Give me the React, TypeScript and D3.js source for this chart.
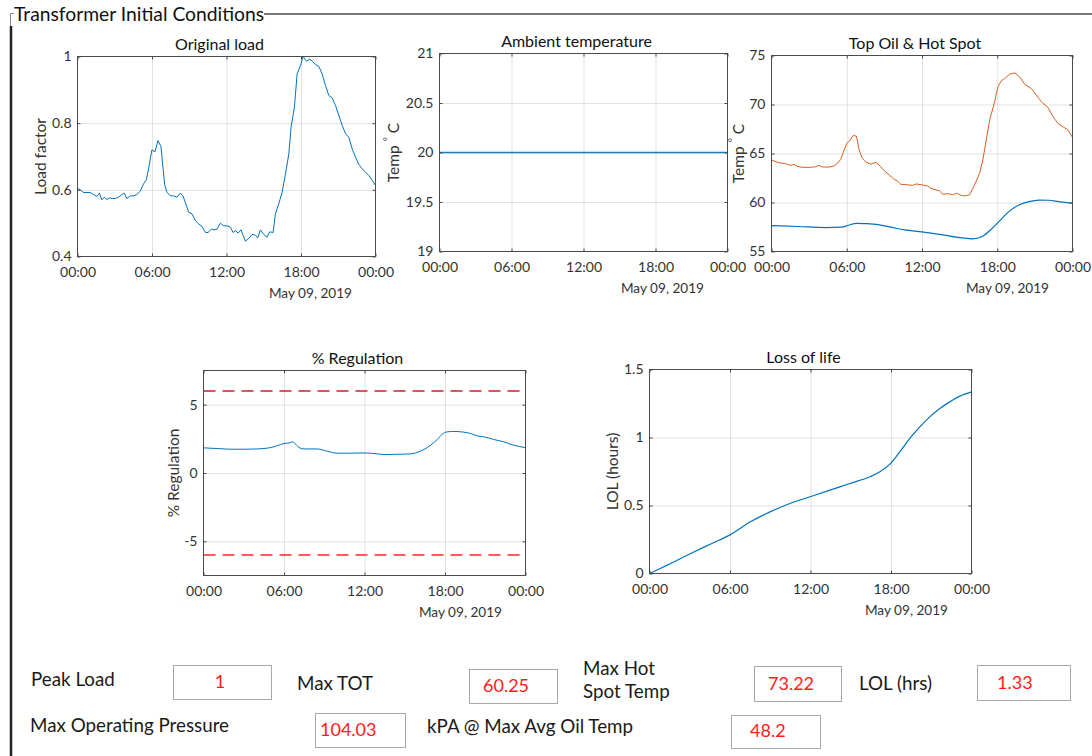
import React, { useEffect, useRef } from 'react';
import * as d3 from 'd3';

// ---------- data ----------
const X_TICKS = [0, 6, 12, 18, 24];
const X_TICK_LABELS = ['00:00', '06:00', '12:00', '18:00', '00:00'];
const DATE_LABEL = 'May 09, 2019';
const PANEL_TITLE = 'Transformer Initial Conditions';

const LOAD_HOURS = [0, 0.22, 0.48, 0.75, 1.02, 1.29, 1.56, 1.77, 1.96, 2.15, 2.37, 2.58, 2.8, 3.06, 3.31, 3.58, 3.76, 3.98, 4.25, 4.52, 4.78, 5.05, 5.32, 5.54, 5.75, 5.99, 6.24, 6.48, 6.72, 6.88, 7.02, 7.2, 7.47, 7.74, 8.01, 8.28, 8.49, 8.68, 8.95, 9.22, 9.49, 9.76, 10.03, 10.3, 10.51, 10.78, 11.05, 11.24, 11.51, 11.77, 12.04, 12.31, 12.53, 12.74, 12.93, 13.17, 13.52, 13.79, 14.06, 14.33, 14.52, 14.73, 15.0, 15.27, 15.48, 15.75, 15.94, 16.21, 16.48, 16.75, 17.02, 17.2, 17.47, 17.69, 17.96, 18.17, 18.44, 18.71, 18.9, 19.17, 19.44, 19.7, 19.97, 20.24, 20.51, 20.78, 21.05, 21.32, 21.59, 21.85, 22.12, 22.39, 22.66, 22.93, 23.2, 23.47, 23.74, 24.0];
const LOAD_FACTOR = [0.605, 0.6, 0.592, 0.592, 0.592, 0.586, 0.58, 0.59, 0.57, 0.578, 0.571, 0.576, 0.574, 0.574, 0.578, 0.586, 0.59, 0.574, 0.582, 0.582, 0.586, 0.596, 0.618, 0.63, 0.668, 0.72, 0.714, 0.748, 0.73, 0.668, 0.616, 0.593, 0.582, 0.582, 0.578, 0.59, 0.582, 0.563, 0.533, 0.528, 0.508, 0.498, 0.49, 0.472, 0.472, 0.482, 0.48, 0.482, 0.5, 0.492, 0.492, 0.488, 0.472, 0.478, 0.47, 0.48, 0.446, 0.454, 0.466, 0.464, 0.456, 0.48, 0.466, 0.458, 0.474, 0.472, 0.528, 0.558, 0.593, 0.648, 0.708, 0.788, 0.848, 0.948, 0.973, 1.0, 0.986, 0.992, 0.986, 0.976, 0.97, 0.948, 0.913, 0.883, 0.876, 0.853, 0.823, 0.793, 0.768, 0.758, 0.723, 0.698, 0.676, 0.663, 0.653, 0.643, 0.628, 0.613];

const AMBIENT_HOURS = [0, 24];
const AMBIENT_TEMP = [20, 20];

const HOTSPOT_HOURS = [0, 0.59, 1.12, 1.52, 1.79, 2.05, 2.45, 3.12, 3.52, 3.79, 4.05, 4.59, 4.99, 5.25, 5.52, 5.79, 6.0, 6.24, 6.51, 6.77, 6.99, 7.25, 7.52, 7.92, 8.32, 8.59, 8.99, 9.39, 9.79, 10.05, 10.32, 10.72, 11.25, 11.52, 12.0, 12.45, 12.72, 13.12, 13.39, 13.65, 14.05, 14.45, 14.77, 15.12, 15.39, 15.79, 16.19, 16.59, 16.85, 17.12, 17.39, 17.79, 18.05, 18.32, 18.59, 18.99, 19.4, 19.79, 20.19, 20.72, 21.12, 21.52, 22.05, 22.45, 22.85, 23.25, 23.65, 24];
const HOTSPOT_TEMP = [64.33, 64.06, 63.96, 63.79, 63.89, 63.69, 63.59, 63.59, 63.65, 63.79, 63.62, 63.62, 63.72, 63.99, 64.4, 65.35, 66.03, 66.3, 66.84, 66.77, 65.35, 64.5, 64.13, 63.92, 64.09, 63.82, 63.25, 62.8, 62.36, 62.19, 61.85, 61.82, 61.75, 61.89, 61.8, 61.68, 61.45, 61.28, 61.21, 60.84, 60.9, 60.8, 60.94, 60.73, 60.67, 60.77, 61.79, 62.97, 64.33, 66.37, 68.4, 70.27, 71.8, 72.41, 72.65, 73.09, 73.22, 72.81, 72.07, 71.63, 70.95, 70.27, 69.69, 68.74, 68.06, 67.72, 67.39, 66.64];

const TOPOIL_HOURS = [0, 2.17, 4.3, 5.6, 6.13, 6.8, 7.45, 8.5, 9.55, 10.6, 12, 13.65, 15.23, 16.02, 16.8, 17.46, 18.13, 18.93, 19.72, 20.52, 21.31, 22.1, 22.9, 24];
const TOPOIL_TEMP = [57.65, 57.55, 57.44, 57.48, 57.68, 57.88, 57.85, 57.75, 57.48, 57.2, 57.0, 56.7, 56.39, 56.29, 56.53, 57.2, 58.05, 59.07, 59.75, 60.09, 60.25, 60.23, 60.09, 59.92];

const REG_HOURS = [0, 1.04, 2.03, 3.03, 4.02, 5.01, 5.51, 6.0, 6.38, 6.63, 6.82, 7.12, 7.49, 8.49, 9.23, 9.98, 10.97, 11.96, 12.95, 13.45, 14.44, 15.43, 15.81, 16.43, 16.92, 17.42, 17.79, 18.16, 18.66, 19.4, 19.9, 20.4, 20.89, 21.64, 22.38, 23.13, 24];
const REG_PERCENT = [1.84, 1.79, 1.74, 1.74, 1.76, 1.86, 2.0, 2.16, 2.2, 2.28, 2.16, 1.86, 1.76, 1.76, 1.59, 1.45, 1.45, 1.47, 1.4, 1.35, 1.37, 1.4, 1.47, 1.72, 2.03, 2.45, 2.84, 3.01, 3.04, 2.99, 2.89, 2.72, 2.65, 2.45, 2.28, 2.03, 1.86];
const REG_LIMITS = [6, -6];

const LOL_HOURS = [0, 1.54, 3.03, 4.52, 6.0, 7.49, 8.98, 10.47, 11.96, 13.45, 14.94, 16.43, 17.17, 17.92, 18.66, 19.4, 20.15, 20.89, 21.64, 22.38, 23.13, 24];
const LOL_VALUES = [0, 0.072, 0.145, 0.215, 0.284, 0.378, 0.453, 0.515, 0.564, 0.613, 0.662, 0.711, 0.748, 0.804, 0.895, 0.993, 1.078, 1.152, 1.213, 1.262, 1.304, 1.336];

const LOAD_Y_TICKS = [0.4, 0.6, 0.8, 1];
const AMB_Y_TICKS = [19, 19.5, 20, 20.5, 21];
const TEMP_Y_TICKS = [55, 60, 65, 70, 75];
const REG_Y_TICKS = [-5, 0, 5];
const LOL_Y_TICKS = [0, 0.5, 1, 1.5];

const SUMMARY_LABELS = ['Peak Load', 'Max TOT', 'Max Hot\nSpot Temp', 'LOL (hrs)', 'Max Operating Pressure', 'kPA @ Max Avg Oil Temp'];
const SUMMARY_VALUES = ['1', '60.25', '73.22', '1.33', '104.03', '48.2'];

// ---------- styles ----------
const FONT = 'Lato, "Open Sans", sans-serif';
const BLUE = '#0072BD';
const ORANGE = '#DB5F20';
const GRID = '#e1e1e1';
const AXIS = '#4a4a4a';
const TEXT = '#333333';

type Series = { xs: number[]; ys: number[]; color: string; width: number; curve?: any };
type PanelCfg = {
  left: number; top: number; right: number; bottom: number;
  yDomain: [number, number]; yTicks: number[];
  title: string; ylabel: string; degree?: boolean; ylabelX: number;
  series: Series[]; refLines?: { value: number; color: string }[];
};

function drawPanel(root: any, c: PanelCfg) {
  const g = root.append('g');
  const x = d3.scaleLinear().domain([0, 24]).range([c.left, c.right]);
  const y = d3.scaleLinear().domain(c.yDomain).range([c.bottom, c.top]);
  const w = c.right - c.left;
  const h = c.bottom - c.top;

  // grid
  g.append('g').attr('transform', `translate(0,${c.bottom})`)
    .call(d3.axisBottom(x).tickValues(X_TICKS.slice(1, -1)).tickSize(-h).tickFormat(() => ''))
    .call((s: any) => { s.select('.domain').remove(); s.selectAll('line').attr('stroke', GRID); });
  const yGridTicks = c.yTicks.filter((t) => t !== c.yDomain[0] && t !== c.yDomain[1]);
  g.append('g').attr('transform', `translate(${c.left},0)`)
    .call(d3.axisLeft(y).tickValues(yGridTicks).tickSize(-w).tickFormat(() => ''))
    .call((s: any) => { s.select('.domain').remove(); s.selectAll('line').attr('stroke', GRID); });

  // reference lines
  (c.refLines || []).forEach((r) => {
    const yy = y(r.value);
    g.append('line').attr('x1', c.left).attr('x2', c.right).attr('y1', yy).attr('y2', yy)
      .attr('stroke', r.color).attr('stroke-width', 1.3).attr('stroke-dasharray', '12,7');
  });

  // series
  c.series.forEach((s) => {
    const pts = s.xs.map((v, i) => [v, s.ys[i]] as [number, number]);
    const line = d3.line<[number, number]>().x((d) => x(d[0])).y((d) => y(d[1])).curve(s.curve || d3.curveLinear);
    g.append('path').attr('d', line(pts)).attr('fill', 'none').attr('stroke', s.color)
      .attr('stroke-width', s.width).attr('stroke-linejoin', 'round');
  });

  // box
  g.append('rect').attr('x', c.left).attr('y', c.top).attr('width', w).attr('height', h)
    .attr('fill', 'none').attr('stroke', AXIS).attr('stroke-width', 1);

  const style = (s: any) => {
    s.select('.domain').remove();
    s.selectAll('line').attr('stroke', AXIS);
    s.selectAll('text').attr('fill', TEXT).attr('font-family', FONT).attr('font-size', 14);
  };
  // axes with inward ticks
  g.append('g').attr('transform', `translate(0,${c.bottom})`)
    .call(d3.axisBottom(x).tickValues(X_TICKS).tickFormat((_d: any, i: number) => X_TICK_LABELS[i]).tickSizeInner(-3).tickSizeOuter(0).tickPadding(11))
    .call(style);
  g.append('g').attr('transform', `translate(0,${c.top})`)
    .call(d3.axisTop(x).tickValues(X_TICKS).tickFormat(() => '').tickSizeInner(-3).tickSizeOuter(0))
    .call(style);
  g.append('g').attr('transform', `translate(${c.left},0)`)
    .call(d3.axisLeft(y).tickValues(c.yTicks).tickFormat((d: any) => String(d)).tickSizeInner(-3).tickSizeOuter(0).tickPadding(6))
    .call(style);
  g.append('g').attr('transform', `translate(${c.right},0)`)
    .call(d3.axisRight(y).tickValues(c.yTicks).tickFormat(() => '').tickSizeInner(-3).tickSizeOuter(0))
    .call(style);

  // title
  g.append('text').attr('x', (c.left + c.right) / 2 - 7).attr('y', c.top - 6.5)
    .attr('text-anchor', 'middle').attr('font-family', FONT).attr('font-size', 16).attr('fill', '#111')
    .text(c.title);
  // date label
  g.append('text').attr('x', c.right - 23.5).attr('y', c.bottom + 41.5)
    .attr('text-anchor', 'end').attr('font-family', FONT).attr('font-size', 13.6).attr('fill', TEXT)
    .text(DATE_LABEL);
  // y label
  const yl = g.append('text')
    .attr('transform', `translate(${c.ylabelX},${(c.top + c.bottom) / 2}) rotate(-90)`)
    .attr('text-anchor', 'middle').attr('dominant-baseline', 'central')
    .attr('font-family', FONT).attr('font-size', 15.5).attr('fill', TEXT);
  if (c.degree) {
    yl.append('tspan').text(c.ylabel + ' ');
    yl.append('tspan').attr('dy', -6).attr('font-size', 10).text('°');
    yl.append('tspan').attr('dy', 6).text(' C');
  } else {
    yl.text(c.ylabel);
  }
}

export default function App() {
  const ref = useRef<SVGSVGElement | null>(null);

  useEffect(() => {
    const svg = d3.select(ref.current);
    svg.selectAll('*').remove();
    svg.append('rect').attr('width', 1092).attr('height', 756).attr('fill', '#fff');

    // group box
    svg.append('path').attr('d', 'M10.5,28 L10.5,13.5 L14,13.5').attr('fill', 'none').attr('stroke', '#888').attr('stroke-width', 1);
    svg.append('line').attr('x1', 11).attr('x2', 11).attr('y1', 26).attr('y2', 756).attr('stroke', '#222').attr('stroke-width', 2.5);
    svg.append('line').attr('x1', 264).attr('x2', 1092).attr('y1', 14).attr('y2', 14).attr('stroke', '#777').attr('stroke-width', 1.8);
    svg.append('text').attr('x', 14).attr('y', 21).attr('font-family', FONT).attr('font-size', 19.3).attr('fill', '#111').text(PANEL_TITLE);

    drawPanel(svg, {
      left: 77.5, top: 56.5, right: 375.5, bottom: 256.5, yDomain: [0.4, 1], yTicks: LOAD_Y_TICKS,
      title: 'Original load', ylabel: 'Load factor', ylabelX: 40,
      series: [{ xs: LOAD_HOURS, ys: LOAD_FACTOR, color: BLUE, width: 1 }],
    });
    drawPanel(svg, {
      left: 439.5, top: 53.5, right: 727.5, bottom: 251.5, yDomain: [19, 21], yTicks: AMB_Y_TICKS,
      title: 'Ambient temperature', ylabel: 'Temp', degree: true, ylabelX: 393,
      series: [{ xs: AMBIENT_HOURS, ys: AMBIENT_TEMP, color: '#1a7dbf', width: 1.5 }],
    });
    drawPanel(svg, {
      left: 771.5, top: 55.5, right: 1072.5, bottom: 251.5, yDomain: [55, 75], yTicks: TEMP_Y_TICKS,
      title: 'Top Oil & Hot Spot', ylabel: 'Temp', degree: true, ylabelX: 738,
      series: [
        { xs: HOTSPOT_HOURS, ys: HOTSPOT_TEMP, color: ORANGE, width: 1 },
        { xs: TOPOIL_HOURS, ys: TOPOIL_TEMP, color: BLUE, width: 1.2, curve: d3.curveMonotoneX },
      ],
    });
    drawPanel(svg, {
      left: 203.5, top: 370.5, right: 525.5, bottom: 575.5, yDomain: [-7.5, 7.5], yTicks: REG_Y_TICKS,
      title: '% Regulation', ylabel: '% Regulation', ylabelX: 173,
      series: [{ xs: REG_HOURS, ys: REG_PERCENT, color: BLUE, width: 1, curve: d3.curveMonotoneX }],
      refLines: [{ value: REG_LIMITS[0], color: '#cc1f29' }, { value: REG_LIMITS[1], color: '#ff2626' }],
    });
    drawPanel(svg, {
      left: 649.5, top: 369.5, right: 971.5, bottom: 573.5, yDomain: [0, 1.5], yTicks: LOL_Y_TICKS,
      title: 'Loss of life', ylabel: 'LOL (hours)', ylabelX: 612,
      series: [{ xs: LOL_HOURS, ys: LOL_VALUES, color: BLUE, width: 1.2, curve: d3.curveMonotoneX }],
    });

    // summary fields
    const labelPos = [
      { x: 31, y: [686] }, { x: 297, y: [690] }, { x: 583, y: [675, 698] },
      { x: 859, y: [690] }, { x: 30, y: [732] }, { x: 427, y: [733] },
    ];
    const boxPos = [
      { x: 173, y: 665, w: 98, h: 34, tx: 220, anchor: 'middle', ty: 688 },
      { x: 469, y: 669, w: 88, h: 34, tx: 483, anchor: 'start', ty: 692 },
      { x: 754, y: 666, w: 87, h: 35, tx: 768, anchor: 'start', ty: 690 },
      { x: 977, y: 665, w: 93, h: 35, tx: 997, anchor: 'start', ty: 689 },
      { x: 315, y: 713, w: 90, h: 34, tx: 320, anchor: 'start', ty: 736 },
      { x: 731, y: 715, w: 89, h: 33, tx: 750, anchor: 'start', ty: 737 },
    ];
    SUMMARY_LABELS.forEach((lab, i) => {
      const lines = lab.split('\n');
      lines.forEach((ln, j) => {
        svg.append('text').attr('x', labelPos[i].x).attr('y', labelPos[i].y[j])
          .attr('font-family', FONT).attr('font-size', 18.8).attr('fill', '#1a1a1a').text(ln);
      });
    });
    SUMMARY_VALUES.forEach((v, i) => {
      const b = boxPos[i];
      svg.append('rect').attr('x', b.x + 0.5).attr('y', b.y + 0.5).attr('width', b.w).attr('height', b.h)
        .attr('fill', '#fff').attr('stroke', '#a8a8a8').attr('stroke-width', 1);
      svg.append('text').attr('x', b.tx).attr('y', b.ty).attr('text-anchor', b.anchor)
        .attr('font-family', FONT).attr('font-size', 18).attr('fill', '#ff1a1a').text(v);
    });
  }, []);

  return (
    <svg ref={ref} width={1092} height={756} style={{ position: 'absolute', left: 0, top: 0, display: 'block' }} />
  );
}
